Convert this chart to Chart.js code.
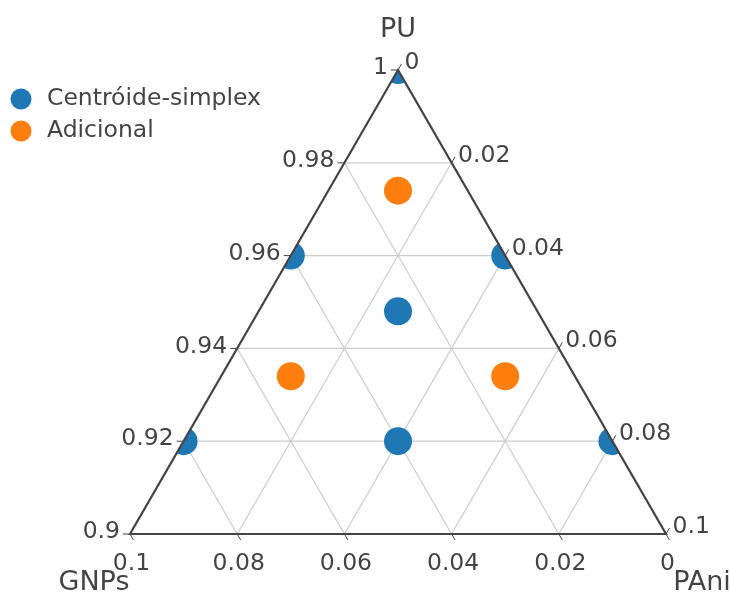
<!DOCTYPE html>
<html>
<head>
<meta charset="utf-8">
<script src="https://cdn.jsdelivr.net/npm/chart.js@4.4.1/dist/chart.umd.min.js"></script>
<style>
  html, body { margin: 0; padding: 0; background: #fff; }
  #wrap { width: 730px; height: 592px; position: relative; }
</style>
</head>
<body>
<div id="wrap"><canvas id="miGrafico"></canvas></div>
<script>
// Datos (fracciones de PU, GNPs, PAni)
var series = ['Centróide-simplex', 'Adicional'];
var colores = ['#1f77b4', '#ff7f0e'];

var puCentroide   = [1, 0.96, 0.96, 0.92, 0.92, 0.92, 0.948];
var gnpsCentroide = [0, 0.04, 0,    0.08, 0,    0.04, 0.026];
var paniCentroide = [0, 0,    0.04, 0,    0.08, 0.04, 0.026];

var puAdicional   = [0.974, 0.934, 0.934];
var gnpsAdicional = [0.013, 0.053, 0.013];
var paniAdicional = [0.013, 0.013, 0.053];

var puTicks   = [0.9, 0.92, 0.94, 0.96, 0.98, 1];
var gnpsTicks = [0, 0.02, 0.04, 0.06, 0.08, 0.1];
var paniTicks = [0, 0.02, 0.04, 0.06, 0.08, 0.1];

var titulos = { pu: 'PU', gnps: 'GNPs', pani: 'PAni' };

var PU_MIN = 0.9;
var LADO = 0.1;
var H = Math.sqrt(3) / 2;

// ternario -> cartesiano
function aXY(pu, gnps, pani) {
    var a = pu - PU_MIN;
    var s = a + gnps + pani;
    a = a / s * LADO; pani = pani / s * LADO;
    return { x: pani + a / 2, y: a * H };
}

function puntos(pu, gnps, pani) {
    return pu.map(function (v, i) { return aXY(v, gnps[i], pani[i]); });
}

function etiqueta(v) {
    return String(Math.round(v * 100) / 100);
}

var ctx = document.getElementById('miGrafico').getContext('2d');

var ternario = {
    id: 'ternario',
    beforeDatasetsDraw: function (chart) {
        var c = chart.ctx, sx = chart.scales.x, sy = chart.scales.y;
        function px(p) { return [sx.getPixelForValue(p.x), sy.getPixelForValue(p.y)]; }

        c.save();
        // rejilla
        c.strokeStyle = '#cccccc';
        c.lineWidth = 1.2;
        function linea(p, q) {
            var a = px(p), b = px(q);
            c.beginPath(); c.moveTo(a[0], a[1]); c.lineTo(b[0], b[1]); c.stroke();
        }
        puTicks.slice(1, -1).forEach(function (v) {
            var a = v - PU_MIN;
            linea(aXY(v, LADO - a, 0), aXY(v, 0, LADO - a));
        });
        gnpsTicks.slice(1, -1).forEach(function (v) {
            linea(aXY(PU_MIN + LADO - v, v, 0), aXY(PU_MIN, v, LADO - v));
        });
        paniTicks.slice(1, -1).forEach(function (v) {
            linea(aXY(PU_MIN + LADO - v, 0, v), aXY(PU_MIN, LADO - v, v));
        });
        c.restore();

        // recorte al triángulo
        var T = px(aXY(1, 0, 0)), L = px(aXY(PU_MIN, LADO, 0)), R = px(aXY(PU_MIN, 0, LADO));
        c.save();
        c.beginPath();
        c.moveTo(T[0], T[1]); c.lineTo(L[0], L[1]); c.lineTo(R[0], R[1]); c.closePath();
        c.clip();
    },
    afterDatasetsDraw: function (chart) {
        var c = chart.ctx, sx = chart.scales.x, sy = chart.scales.y;
        c.restore();
        function px(p) { return [sx.getPixelForValue(p.x), sy.getPixelForValue(p.y)]; }

        var T = px(aXY(1, 0, 0)), L = px(aXY(PU_MIN, LADO, 0)), R = px(aXY(PU_MIN, 0, LADO));
        c.save();
        c.strokeStyle = '#444';
        c.lineWidth = 2.2;
        c.beginPath();
        c.moveTo(T[0], T[1]); c.lineTo(L[0], L[1]); c.lineTo(R[0], R[1]); c.closePath();
        c.stroke();

        var largo = 7;
        c.fillStyle = '#444';
        c.lineWidth = 1;
        c.font = '23.5px "DejaVu Sans"';

        function marca(p, dx, dy) {
            var a = px(p);
            var e = [a[0] + dx * largo, a[1] + dy * largo];
            c.beginPath(); c.moveTo(a[0], a[1]); c.lineTo(e[0], e[1]); c.stroke();
            return e;
        }

        // eje PU (lado izquierdo)
        c.textAlign = 'right'; c.textBaseline = 'middle';
        puTicks.forEach(function (v) {
            var a = v - PU_MIN;
            var e = marca(aXY(v, LADO - a, 0), -1, 0);
            c.fillText(etiqueta(v), e[0] - 3, e[1] - 2);
        });
        // eje PAni (lado derecho)
        c.textAlign = 'left';
        paniTicks.forEach(function (v) {
            var e = marca(aXY(PU_MIN + LADO - v, 0, v), 0.5, -H);
            c.fillText(etiqueta(v), e[0] + 3, e[1] - 1);
        });
        // eje GNPs (base)
        c.textAlign = 'center'; c.textBaseline = 'alphabetic';
        gnpsTicks.forEach(function (v) {
            var e = marca(aXY(PU_MIN, v, LADO - v), 0.5, H);
            c.fillText(etiqueta(v), e[0] - 2, e[1] + 30);
        });

        // títulos
        c.font = '27px "DejaVu Sans"';
        c.textAlign = 'center';
        c.fillText(titulos.pu, T[0], T[1] - 33);
        c.fillText(titulos.gnps, L[0] - 36, L[1] + 56);
        c.fillText(titulos.pani, R[0] + 36, R[1] + 56);

        // leyenda
        c.font = '23.5px "DejaVu Sans"';
        c.textAlign = 'left'; c.textBaseline = 'middle';
        chart.data.datasets.forEach(function (ds, i) {
            var y = 99 + i * 32;
            c.fillStyle = ds.backgroundColor;
            c.beginPath(); c.arc(21, y, 10.5, 0, Math.PI * 2); c.fill();
            c.fillStyle = '#444';
            c.fillText(ds.label, 47, y);
        });
        c.restore();
    }
};

var data = {
    datasets: [{
        label: series[0],
        data: puntos(puCentroide, gnpsCentroide, paniCentroide),
        backgroundColor: colores[0],
        borderWidth: 0,
        pointRadius: 14,
        pointHoverRadius: 14,
        clip: false
    }, {
        label: series[1],
        data: puntos(puAdicional, gnpsAdicional, paniAdicional),
        backgroundColor: colores[1],
        borderWidth: 0,
        pointRadius: 14,
        pointHoverRadius: 14,
        clip: false
    }]
};

var options = {
    responsive: false,
    animation: false,
    layout: { padding: { left: 130, right: 64, top: 70, bottom: 58 } },
    plugins: { legend: { display: false }, tooltip: { enabled: false } },
    scales: {
        x: { type: 'linear', min: 0, max: LADO, display: false },
        y: { type: 'linear', min: 0, max: LADO * H, display: false }
    }
};

var cv = document.getElementById('miGrafico');
cv.width = 730; cv.height = 592;

var miGrafico = new Chart(ctx, {
    type: 'scatter',
    data: data,
    options: options,
    plugins: [ternario]
});
</script>
</body>
</html>
